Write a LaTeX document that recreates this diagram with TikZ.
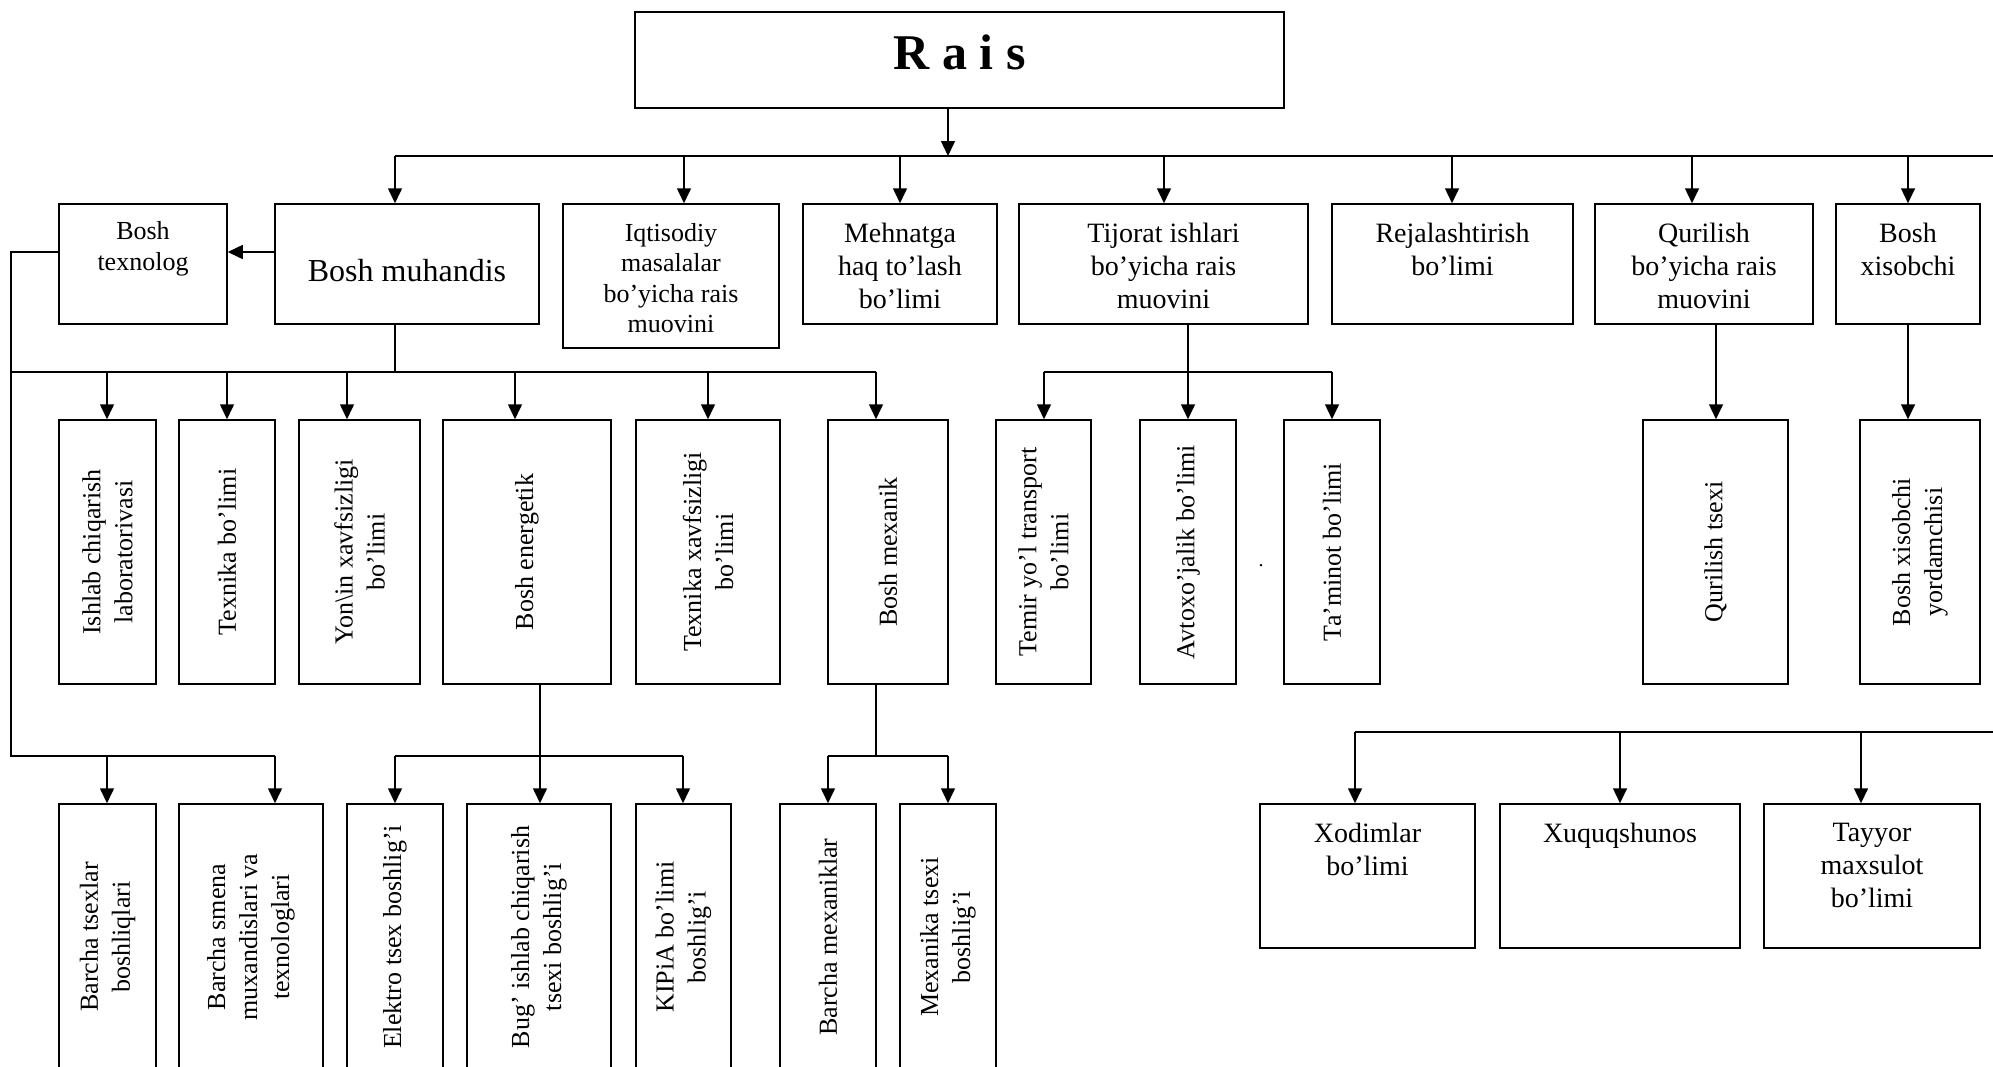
\documentclass[tikz,border=0pt]{standalone}
\usepackage{fontspec}
\setmainfont{Liberation Serif}
\usetikzlibrary{arrows.meta}
\tikzset{
  box/.style={draw, line width=1.5pt, inner sep=0pt},
  ln/.style={line width=1.5pt},
  arr/.style={line width=1.5pt, -{Triangle[length=15pt,width=14pt]}},
  ttxt/.style={align=center, inner sep=0pt, anchor=north, font=\fontsize{28}{33}\selectfont},
  rtxt/.style={align=center, inner sep=0pt, rotate=90, font=\fontsize{26}{32}\selectfont}
}
\newcommand\bx[5]{\node[box, minimum width={(#4-#2)*1pt}, minimum height={(#5-#3)*1pt}] (#1) at ({(#2+#4)/2},{(#3+#5)/2}) {};}
\begin{document}
\begin{tikzpicture}[x=1pt,y=-1pt]
\useasboundingbox (0,0) rectangle (1993,1066);
\clip (0,0) rectangle (1993,1066);
% boxes
\bx{rais}{635}{12}{1284}{108}
\bx{texnolog}{59}{204}{227}{324}
\bx{muhandis}{275}{204}{539}{324}
\bx{iqtisod}{563}{204}{779}{348}
\bx{mehnat}{803}{204}{997}{324}
\bx{tijorat}{1019}{204}{1308}{324}
\bx{rejal}{1332}{204}{1573}{324}
\bx{qurilish}{1595}{204}{1813}{324}
\bx{xisobchi}{1836}{204}{1980}{324}
\bx{ishlab}{59}{420}{156}{684}
\bx{texnika}{179}{420}{275}{684}
\bx{yongin}{299}{420}{420}{684}
\bx{energetik}{443}{420}{611}{684}
\bx{texxavf}{636}{420}{780}{684}
\bx{mexanik}{828}{420}{948}{684}
\bx{temir}{996}{420}{1091}{684}
\bx{avtoxo}{1140}{420}{1236}{684}
\bx{taminot}{1284}{420}{1380}{684}
\bx{qtsexi}{1643}{420}{1788}{684}
\bx{xyord}{1860}{420}{1980}{684}
\bx{btsex}{59}{804}{156}{1074}
\bx{bsmena}{179}{804}{323}{1074}
\bx{elektro}{347}{804}{443}{1074}
\bx{bug}{467}{804}{611}{1074}
\bx{kipia}{636}{804}{731}{1074}
\bx{bmex}{780}{804}{876}{1074}
\bx{mtsex}{900}{804}{996}{1074}
\bx{xodim}{1260}{804}{1475}{948}
\bx{xuquq}{1500}{804}{1740}{948}
\bx{tayyor}{1764}{804}{1980}{948}
% texts
\node[inner sep=0pt, font=\fontsize{50}{55}\selectfont\bfseries] (rais-t) at (959.5,52) {R a i s};
\node[ttxt, font=\fontsize{26}{31}\selectfont] (texnolog-t) at (143,221) {Bosh\\texnolog};
\node[inner sep=0pt, font=\fontsize{32}{38}\selectfont] (muhandis-t) at (407,271) {Bosh muhandis};
\node[ttxt, font=\fontsize{26}{30.5}\selectfont] (iqtisod-t) at (671,223) {Iqtisodiy\\masalalar\\bo’yicha rais\\muovini};
\node[ttxt] (mehnat-t) at (900,223) {Mehnatga\\haq to’lash\\bo’limi};
\node[ttxt] (tijorat-t) at (1163.5,223) {Tijorat ishlari\\bo’yicha rais\\muovini};
\node[ttxt] (rejal-t) at (1452.5,223) {Rejalashtirish\\bo’limi};
\node[ttxt] (qurilish-t) at (1704,223) {Qurilish\\bo’yicha rais\\muovini};
\node[ttxt] (xisobchi-t) at (1908,223) {Bosh\\xisobchi};
\node[ttxt] (xodim-t) at (1367.5,823) {Xodimlar\\bo’limi};
\node[ttxt] (xuquq-t) at (1620,823) {Xuquqshunos};
\node[ttxt] (tayyor-t) at (1872,823) {Tayyor\\maxsulot\\bo’limi};
\node[rtxt] (ishlab-t) at (ishlab) {Ishlab chiqarish\\laboratorivasi};
\node[rtxt] (texnika-t) at (texnika) {Texnika bo’limi};
\node[rtxt] (yongin-t) at (yongin) {Yon\textbackslash in xavfsizligi\\bo’limi};
\node[rtxt] (energetik-t) at (energetik) {Bosh energetik};
\node[rtxt] (texxavf-t) at (texxavf) {Texnika xavfsizligi\\bo’limi};
\node[rtxt] (mexanik-t) at (mexanik) {Bosh mexanik};
\node[rtxt] (temir-t) at (temir) {Temir yo’l transport\\bo’limi};
\node[rtxt] (avtoxo-t) at (avtoxo) {Avtoxo’jalik bo’limi};
\node[rtxt] (taminot-t) at (taminot) {Ta’minot bo’limi};
\node[rtxt] (qtsexi-t) at (qtsexi) {Qurilish tsexi};
\node[rtxt] (xyord-t) at (xyord) {Bosh xisobchi\\yordamchisi};
\node[rtxt] (btsex-t) at (107.5,937) {Barcha tsexlar\\boshliqlari};
\node[rtxt] (bsmena-t) at (251,937) {Barcha smena\\muxandislari va\\texnologlari};
\node[rtxt] (elektro-t) at (395,937) {Elektro tsex boshlig’i};
\node[rtxt] (bug-t) at (539,937) {Bug’ ishlab chiqarish\\tsexi boshlig’i};
\node[rtxt] (kipia-t) at (683.5,937) {KIPiA bo’limi\\boshlig’i};
\node[rtxt] (bmex-t) at (828,937) {Barcha mexaniklar};
\node[rtxt] (mtsex-t) at (948,937) {Mexanika tsexi\\boshlig’i};
\node[inner sep=0pt, font=\fontsize{20}{24}\selectfont] (dot) at (1261,566) {.};
% top bus
\coordinate (busT) at (948,156);
\draw[arr] (rais.south -| busT) -- (busT);
\coordinate (busTL) at (395,156);
\coordinate (busTR) at (1993,156);
\draw[ln] (busTL) -- (busTR);
\foreach \x/\n in {395/muhandis,684/iqtisod,900/mehnat,1164/tijorat,1452/rejal,1692/qurilish,1908/xisobchi}{
  \coordinate (t-\n) at (\x,156);
  \draw[arr] (t-\n) -- (t-\n |- \n.north);
}
% muhandis -> texnolog
\draw[arr] ([yshift=12pt]muhandis.west) -- ([yshift=12pt]texnolog.east);
% muhandis bus
\coordinate (mb) at (395,372);
\coordinate (mbL) at (11,372);
\coordinate (mbR) at (876,372);
\draw[ln] (mb |- muhandis.south) -- (mb);
\draw[ln] (mbL) -- (mbR);
\foreach \x/\n in {107/ishlab,227/texnika,347/yongin,515/energetik,708/texxavf,876/mexanik}{
  \coordinate (m-\n) at (\x,372);
  \draw[arr] (m-\n) -- (m-\n |- \n.north);
}
% texnolog left line to bottom row
\coordinate (lt) at (11,252);
\coordinate (lb) at (11,756);
\coordinate (lbR) at (275,756);
\draw[ln] ([yshift=12pt]texnolog.west) -- (lt) -- (lb) -- (lbR);
\foreach \x/\n in {107/btsex,275/bsmena}{
  \coordinate (l-\n) at (\x,756);
  \draw[arr] (l-\n) -- (l-\n |- \n.north);
}
% energetik
\coordinate (eb) at (540,756);
\coordinate (ebL) at (395,756);
\coordinate (ebR) at (683,756);
\draw[ln] (eb |- energetik.south) -- (eb);
\draw[ln] (ebL) -- (ebR);
\foreach \x/\n in {395/elektro,540/bug,683/kipia}{
  \coordinate (e-\n) at (\x,756);
  \draw[arr] (e-\n) -- (e-\n |- \n.north);
}
% mexanik
\coordinate (xb) at (876,756);
\coordinate (xbL) at (828,756);
\coordinate (xbR) at (948,756);
\draw[ln] (xb |- mexanik.south) -- (xb);
\draw[ln] (xbL) -- (xbR);
\foreach \x/\n in {828/bmex,948/mtsex}{
  \coordinate (x-\n) at (\x,756);
  \draw[arr] (x-\n) -- (x-\n |- \n.north);
}
% tijorat
\coordinate (tb) at (1188,372);
\coordinate (tbL) at (1044,372);
\coordinate (tbR) at (1332,372);
\draw[ln] (tb |- tijorat.south) -- (tb);
\draw[ln] (tbL) -- (tbR);
\foreach \x/\n in {1044/temir,1188/avtoxo,1332/taminot}{
  \coordinate (j-\n) at (\x,372);
  \draw[arr] (j-\n) -- (j-\n |- \n.north);
}
% qurilish, xisobchi
\coordinate (qx) at (1716,0);
\draw[arr] (qurilish.south -| qx) -- (qtsexi.north -| qx);
\draw[arr] (xisobchi.south) -- (xyord.north -| xisobchi.south);
% right bottom bus
\coordinate (rb) at (1355,732);
\coordinate (rbR) at (1993,732);
\draw[ln] (rb) -- (rbR);
\foreach \x/\n in {1355/xodim,1620/xuquq,1861/tayyor}{
  \coordinate (r-\n) at (\x,732);
  \draw[arr] (r-\n) -- (r-\n |- \n.north);
}
\end{tikzpicture}
\end{document}
